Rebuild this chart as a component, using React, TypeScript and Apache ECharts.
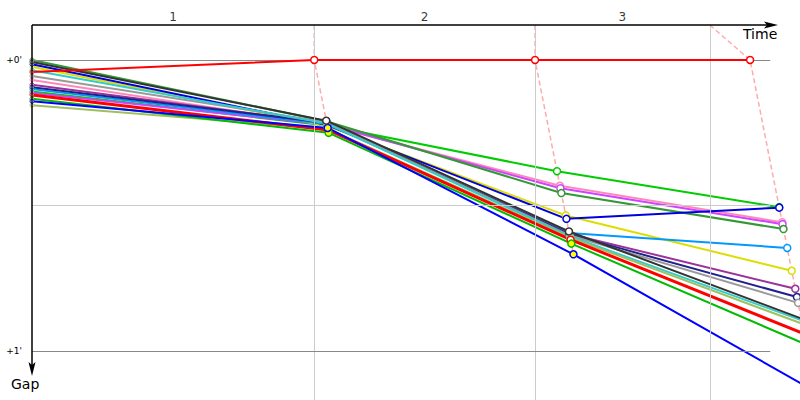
import React, { useEffect, useRef } from "react";
import * as echarts from "echarts";

// Lap labels on the top axis and the time (s) of the lap reference lines
const lapLabels = ["1", "2", "3"];
const lapStartTimes = [0, 294, 524];
const lapLineTimes = [294, 524, 706];
// Time (s) at which the leader completed each lap
const leaderLapTimes = [294, 524, 748];
// Gap axis ticks (s) and horizontal guide lines
const gapTicks = [0, 60];
const guideGaps = [0, 30, 60];
const guideEndTime = 769;

const driverColors = [
  "#ff0000", // leader
  "#00cc00",
  "#ff88bb",
  "#cc44ff",
  "#339933",
  "#dddd00",
  "#0000dd",
  "#0099ff",
  "#993399",
  "#202090",
  "#999999",
  "#333333",
  "#33cccc",
  "#a0c060",
  "#ff0000",
  "#00bb00",
  "#0000ff",
];
// Gaps (s) at start and at the end of laps 1, 2, 3
const startGaps = [2.5, 6.5, 4.1, 6.8, 0.0, 1.4, 0.9, 6.0, 5.1, 5.6, 3.3, 0.4, 2.1, 9.3, 7.2, 8.0, 8.5];
const lap1Gaps = [0, 13.5, 13.4, 13.3, 12.6, 13.6, 13.4, 13.2, 13.0, 12.9, 12.8, 12.5, 13.1, 14.2, 14.4, 15.0, 14.0];
const lap2Gaps = [0, 22.9, 25.9, 26.4, 27.4, 32.0, 32.7, 35.6, 35.8, 35.9, 36.1, 35.3, 36.3, 36.6, 37.0, 37.8, 40.0];
const lap3Gaps = [0, 30.3, 33.4, 33.8, 34.8, 43.4, 30.4, 38.7, 47.1, 48.8, 50.0, 53.2, 53.6, 54.3, 56.4, 58.6, 68.3];
// Drivers whose lap markers are filled yellow
const yellowMarkedDrivers = [15, 16];

export default function App() {
  const ref = useRef<HTMLDivElement>(null);

  useEffect(() => {
    const chart = echarts.init(ref.current!, null, { renderer: "svg" });
    const X_MIN = 0;
    const X_MAX = 800;
    const Y_MIN = -7.2;
    const Y_MAX = 70;
    const font = "DejaVu Sans";
    const lapGaps = [lap1Gaps, lap2Gaps, lap3Gaps];

    const driverSeries: any[] = driverColors.map((color, i) => {
      const yellow = yellowMarkedDrivers.includes(i);
      const data: any[] = [
        {
          value: [0, startGaps[i]],
          symbolSize: 4,
          itemStyle: { color: "#ffffff", borderColor: color, borderWidth: 1 },
        },
        ...lapGaps.map((g, lap) => ({
          value: [leaderLapTimes[lap] + g[i], g[i]],
          itemStyle: {
            color: yellow && lap < 2 ? "#ffff00" : "#ffffff",
            borderColor: color,
            borderWidth: 1.5,
          },
        })),
      ];
      return {
        type: "line",
        name: "d" + i,
        data,
        symbol: "circle",
        symbolSize: 7,
        showSymbol: true,
        clip: true,
        silent: true,
        z: i === 0 ? 5 : i === 11 ? 4 : 3,
        lineStyle: { color, width: i === 14 ? 3 : 2 },
      };
    });

    const dashedSeries: any[] = lapGaps.map((g, lap) => {
      const pts = g
        .map((v) => [leaderLapTimes[lap] + v, v])
        .sort((a, b) => a[1] - b[1]);
      const s: any = {
        type: "line",
        data: [[lapLineTimes[lap], Y_MIN], ...pts],
        symbol: "none",
        clip: true,
        silent: true,
        z: 2,
        lineStyle: { color: "#ffaaaa", width: 1.5, type: [5, 3] },
      };
      if (lap === 0) {
        s.markLine = {
          silent: true,
          symbol: ["none", "none"],
          label: { show: false },
          animation: false,
          data: [
            ...lapLineTimes.map((t) => ({
              xAxis: t,
              lineStyle: { color: "#cccccc", width: 1, type: "solid" },
            })),
            ...guideGaps.map((gap) => [
              {
                coord: [0, gap],
                lineStyle: {
                  color: gap % 60 === 0 ? "#888888" : "#cccccc",
                  width: 1,
                  type: "solid",
                },
              },
              { coord: [guideEndTime, gap] },
            ]),
          ],
        };
      }
      return s;
    });

    const lapLabelSeries = {
      type: "scatter",
      data: lapLabels.map((lbl, k) => ({
        value: [(lapStartTimes[k] + lapLineTimes[k]) / 2, Y_MIN],
        label: {
          show: true,
          formatter: lbl,
          position: "top",
          distance: 2,
          color: "#000",
          fontSize: 12,
          fontFamily: font,
        },
      })),
      symbolSize: 0,
      clip: false,
      silent: true,
      z: 6,
    };

    chart.setOption({
      animation: false,
      backgroundColor: "#ffffff",
      grid: { left: 32, right: 0, top: 25, bottom: 0, containLabel: false },
      xAxis: {
        type: "value",
        min: X_MIN,
        max: X_MAX,
        show: true,
        axisLine: { show: false },
        axisTick: { show: false },
        axisLabel: { show: false },
        splitLine: { show: false },
      },
      yAxis: {
        type: "value",
        inverse: true,
        min: Y_MIN,
        max: Y_MAX,
        axisLine: { show: false },
        axisTick: { show: false },
        splitLine: { show: false },
        axisLabel: {
          show: true,
          customValues: gapTicks,
          formatter: (v: number) => `+${Math.round(v / 60)}'`,
          color: "#000",
          fontSize: 9,
          fontFamily: font,
          margin: 10,
        },
      },
      graphic: [
        { type: "line", shape: { x1: 32, y1: 25, x2: 767, y2: 25 }, style: { stroke: "#000", lineWidth: 1.5 }, z: 10 },
        { type: "polygon", shape: { points: [[778, 25], [764, 21.5], [767, 25], [764, 28.5]] }, style: { fill: "#000" }, z: 10 },
        { type: "line", shape: { x1: 32, y1: 25, x2: 32, y2: 366 }, style: { stroke: "#000", lineWidth: 1.5 }, z: 10 },
        { type: "polygon", shape: { points: [[32, 376], [28.5, 362], [32, 365], [35.5, 362]] }, style: { fill: "#000" }, z: 10 },
        { type: "text", x: 743, y: 27, style: { text: "Time", fontSize: 14, fontFamily: font, fill: "#000" }, z: 10 },
        { type: "text", x: 11, y: 377, style: { text: "Gap", fontSize: 14, fontFamily: font, fill: "#000" }, z: 10 },
      ],
      series: [...dashedSeries, ...driverSeries, lapLabelSeries],
    });

    return () => chart.dispose();
  }, []);

  return <div ref={ref} style={{ width: 800, height: 400, position: "absolute", left: 0, top: 0 }} />;
}
